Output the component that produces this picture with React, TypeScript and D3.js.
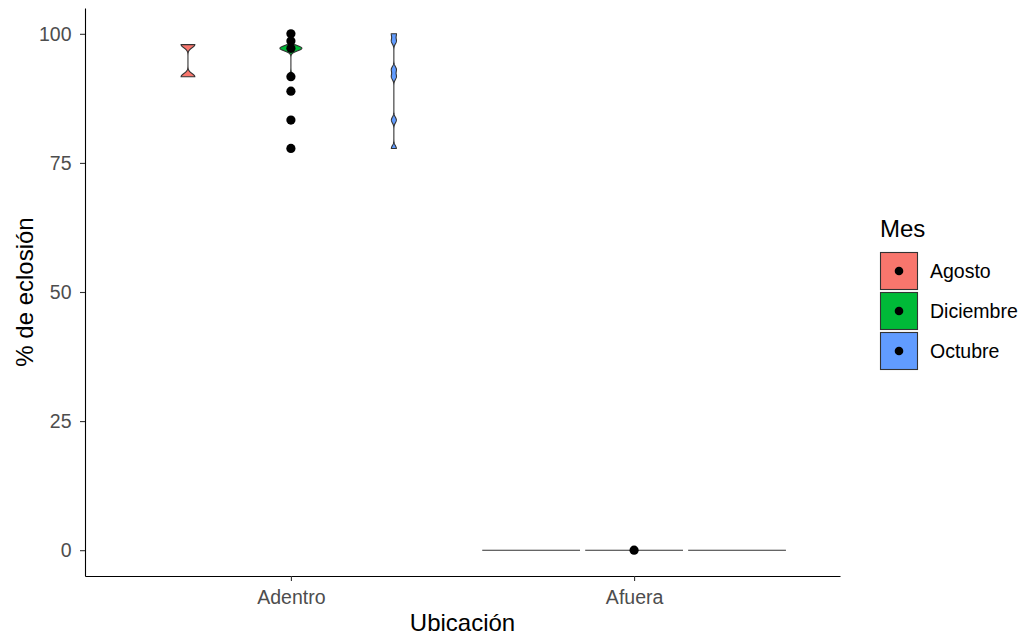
import * as d3 from "d3";
import { useEffect, useRef } from "react";

// categorías y grupos
const ubicaciones = ["Adentro", "Afuera"];
const meses = ["Agosto", "Diciembre", "Octubre"];
const colores = ["#F8766D", "#00BA38", "#619CFF"];
const yTicks = [0, 25, 50, 75, 100];

// observaciones por mes (violines)
const agostoAdentro = [97.9, 91.7];
const diciembreAdentro = [100, 97.2, 97.2, 97.2, 97.2, 91.7];
const octubreAdentro = [100, 98.6, 93.1, 91.7, 83.3, 77.8];
const agostoAfuera = [0, 0, 0];
const diciembreAfuera = [0, 0, 0];
const octubreAfuera = [0, 0, 0];

// ancho de banda del kernel por mes
const bwAdentro = [0.6, 0.5, 0.55];
const bwAfuera = [0.168, 0.168, 0.168];

// puntos sin esquivar
const puntosAdentro = [100, 98.6, 97.2, 91.7, 88.9, 83.3, 77.8];
const puntosAfuera = [0];

const FONT = "'Liberation Sans', Arial, sans-serif";

export default function App() {
  const ref = useRef<SVGSVGElement>(null);

  useEffect(() => {
    draw();
  }, []);

  function draw() {
    const svg = d3.select(ref.current);
    svg.selectAll("*").remove();

    const left = 85;
    const right = 840;
    const top = 8;
    const bottom = 576;

    const y = d3.scaleLinear().domain([-5, 105]).range([bottom, top]);
    const x = d3.scalePoint<string>().domain(ubicaciones).range([left, right]).padding(0.6);
    const step = x.step();
    const dodge = d3.scaleBand<string>().domain(meses).range([-0.45 * step, 0.45 * step]);

    const grupos: { ubic: string; mes: string; vals: number[]; bw: number }[] = [];
    const valsAdentro = [agostoAdentro, diciembreAdentro, octubreAdentro];
    const valsAfuera = [agostoAfuera, diciembreAfuera, octubreAfuera];
    meses.forEach((m, i) => {
      grupos.push({ ubic: "Adentro", mes: m, vals: valsAdentro[i], bw: bwAdentro[i] });
      grupos.push({ ubic: "Afuera", mes: m, vals: valsAfuera[i], bw: bwAfuera[i] });
    });

    const gauss = (u: number) => Math.exp(-0.5 * u * u) / Math.sqrt(2 * Math.PI);

    const dens = grupos.map((g) => {
      const [lo, hi] = d3.extent(g.vals) as [number, number];
      const grid = hi === lo ? [lo, lo] : d3.range(513).map((i) => lo + ((hi - lo) * i) / 512);
      const pts = grid.map((v) => [v, (d3.mean(g.vals, (o) => gauss((v - o) / g.bw)) as number) / g.bw] as [number, number]);
      return { ...g, pts };
    });

    const maxD = d3.max(dens, (d) => d3.max(d.pts, (p) => p[1])) as number;
    const w = d3.scaleLinear().domain([0, maxD]).range([0, (dodge.bandwidth() / 2) * 0.95]);

    const color = d3.scaleOrdinal<string, string>().domain(meses).range(colores);

    dens.forEach((d) => {
      const cx = (x(d.ubic) as number) + (dodge(d.mes) as number) + dodge.bandwidth() / 2;
      const area = d3
        .area<[number, number]>()
        .x0((p) => cx - w(p[1]))
        .x1((p) => cx + w(p[1]))
        .y((p) => y(p[0]));
      svg
        .append("path")
        .attr("d", area(d.pts))
        .attr("fill", color(d.mes))
        .attr("stroke", "#333333")
        .attr("stroke-width", 1.1);
    });

    // puntos
    const puntos = [
      ...puntosAdentro.map((v) => ({ ubic: "Adentro", v })),
      ...puntosAfuera.map((v) => ({ ubic: "Afuera", v })),
    ];
    svg
      .append("g")
      .selectAll("circle")
      .data(puntos)
      .join("circle")
      .attr("cx", (d) => x(d.ubic) as number)
      .attr("cy", (d) => y(d.v))
      .attr("r", 4.6)
      .attr("fill", "#000");

    // ejes
    const yAxis = svg
      .append("g")
      .attr("transform", `translate(${left},0)`)
      .call(d3.axisLeft(y).tickValues(yTicks).tickSize(5).tickSizeOuter(0).tickPadding(8.5));
    const xAxis = svg
      .append("g")
      .attr("transform", `translate(0,${bottom})`)
      .call(d3.axisBottom(x).tickSize(5).tickSizeOuter(0).tickPadding(9.5));

    [yAxis, xAxis].forEach((a) => {
      a.select(".domain").attr("stroke", "#000").attr("stroke-width", 1.1);
      a.selectAll(".tick line").attr("stroke", "#333333").attr("stroke-width", 1.1);
      a.selectAll(".tick text")
        .attr("fill", "#4D4D4D")
        .style("font-family", FONT)
        .style("font-size", "19.5px");
    });

    // títulos
    svg
      .append("text")
      .attr("x", (left + right) / 2)
      .attr("y", 631)
      .attr("text-anchor", "middle")
      .style("font-family", FONT)
      .style("font-size", "24px")
      .attr("fill", "#000")
      .text("Ubicación");

    svg
      .append("text")
      .attr("transform", `translate(33,${(top + bottom) / 2}) rotate(-90)`)
      .attr("text-anchor", "middle")
      .style("font-family", FONT)
      .style("font-size", "24px")
      .attr("fill", "#000")
      .text("% de eclosión");

    // leyenda
    const lg = svg.append("g").attr("transform", "translate(880,0)");
    lg.append("text")
      .attr("x", 0)
      .attr("y", 237)
      .style("font-family", FONT)
      .style("font-size", "24px")
      .attr("fill", "#000")
      .text("Mes");

    const keys = lg
      .selectAll("g.key")
      .data(meses)
      .join("g")
      .attr("class", "key")
      .attr("transform", (_, i) => `translate(0,${252.5 + i * 40})`);
    keys
      .append("rect")
      .attr("x", 0.5)
      .attr("y", 0)
      .attr("width", 37)
      .attr("height", 37)
      .attr("fill", (d) => color(d))
      .attr("stroke", "#333333")
      .attr("stroke-width", 1.1);
    keys
      .append("circle")
      .attr("cx", 19)
      .attr("cy", 18.5)
      .attr("r", 4.3)
      .attr("fill", "#000");
    keys
      .append("text")
      .attr("x", 50)
      .attr("y", 25.5)
      .style("font-family", FONT)
      .style("font-size", "19.5px")
      .attr("fill", "#000")
      .text((d) => d);
  }

  return (
    <svg
      ref={ref}
      width={1026}
      height={640}
      style={{ position: "absolute", left: 0, top: 0, background: "#fff" }}
    />
  );
}
